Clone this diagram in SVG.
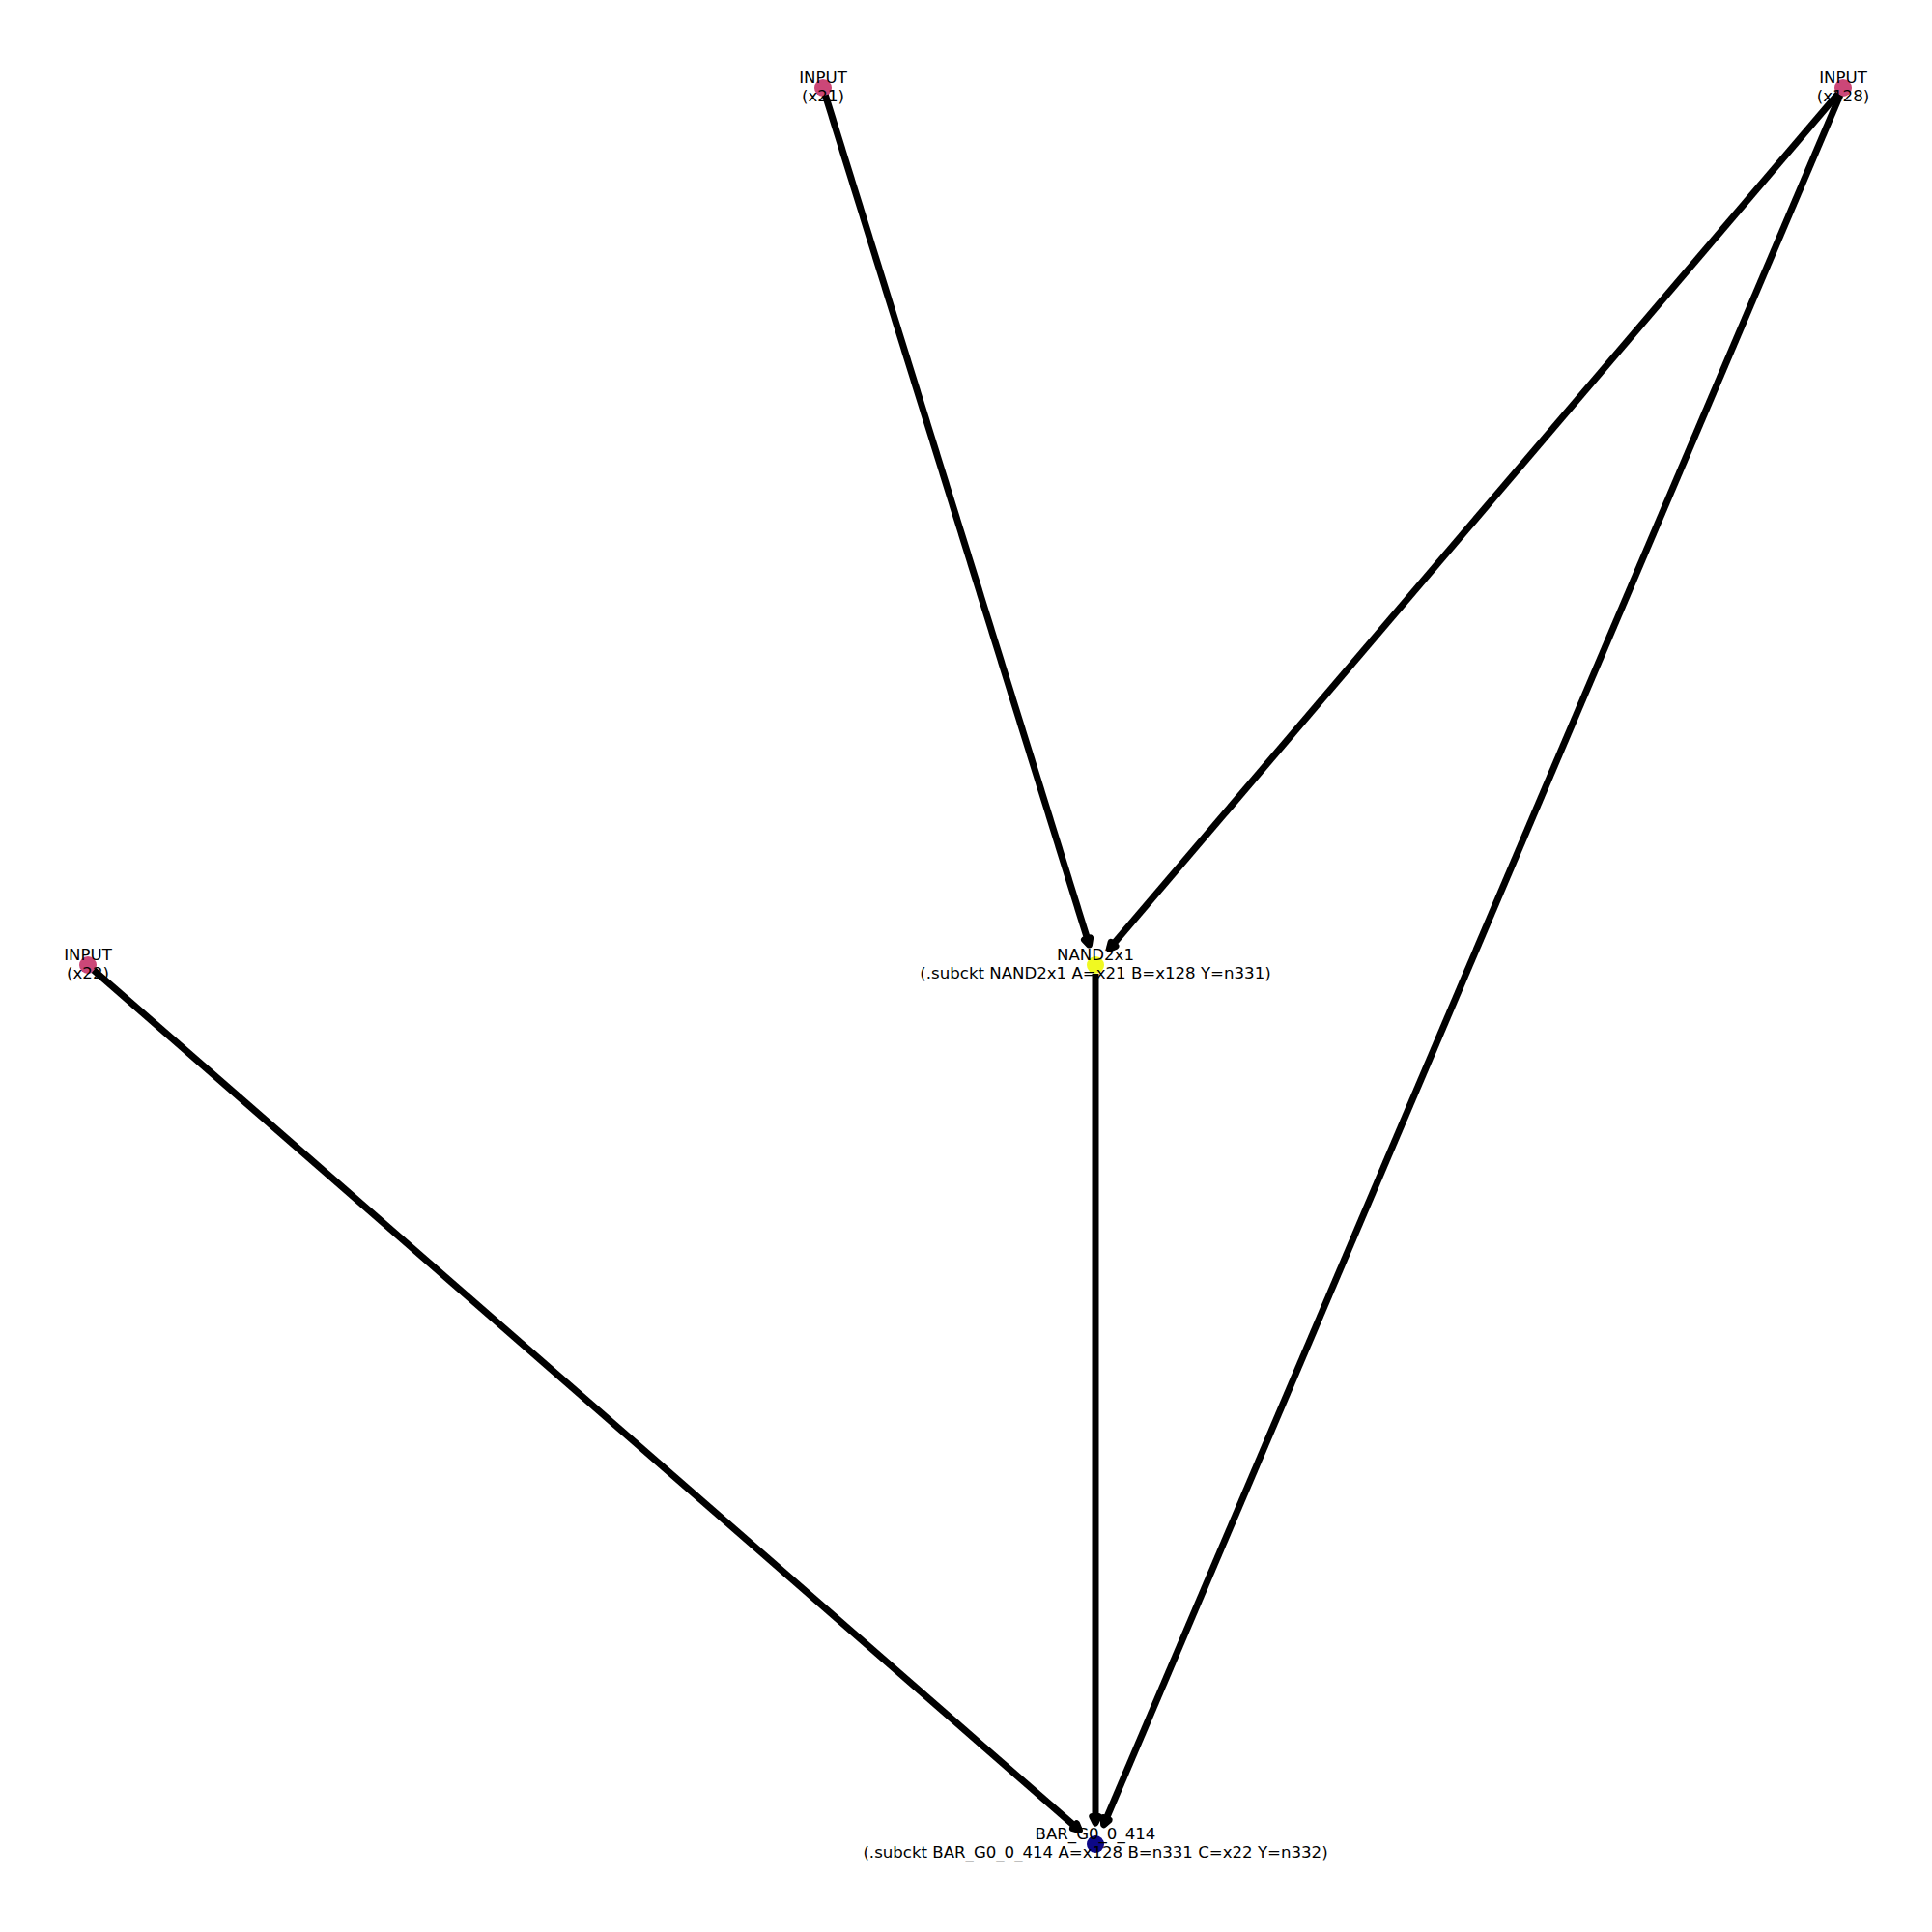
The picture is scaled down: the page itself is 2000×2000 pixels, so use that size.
<svg xmlns="http://www.w3.org/2000/svg" width="2000" height="2000" viewBox="0 0 2000 2000">
<style>
.edge{stroke:#000;stroke-width:7;fill:none;}
.lbl{font-family:"DejaVu Sans",sans-serif;font-size:16.6px;fill:#000;text-anchor:middle;}
.inp{fill:#cc4778;}
.nand{fill:#f0f921;}
.bar{fill:#0d0887;}
</style>
<defs>
<marker id="arr" markerUnits="userSpaceOnUse" viewBox="-10 -10 20 20" markerWidth="20" markerHeight="20" refX="0" refY="0" orient="auto" overflow="visible">
<path d="M-6.5,-3.2 L0,0 L-6.5,3.2 Z" fill="#000" stroke="#000" stroke-width="7" stroke-linejoin="round"/>
</marker>
</defs>
<rect width="2000" height="2000" fill="#fff"/>
<g id="node-x21"><circle class="inp" cx="852" cy="91" r="9"/></g>
<g id="node-x128"><circle class="inp" cx="1908" cy="91" r="9"/></g>
<g id="node-x22"><circle class="inp" cx="91" cy="999" r="9"/></g>
<g id="node-nand"><circle class="nand" cx="1134" cy="999" r="9"/></g>
<g id="node-bar"><circle class="bar" cx="1134" cy="1909" r="9"/></g>
<g id="edges">
<line class="edge" x1="854.4" y1="98.6" x2="1127.5" y2="978" marker-end="url(#arr)"/>
<line class="edge" x1="1902.8" y1="97.1" x2="1148.3" y2="982.3" marker-end="url(#arr)"/>
<line class="edge" x1="1904.9" y1="98.4" x2="1142.6" y2="1888.8" marker-end="url(#arr)"/>
<line class="edge" x1="97" y1="1004.3" x2="1117.4" y2="1894.5" marker-end="url(#arr)"/>
<line class="edge" x1="1134" y1="1008" x2="1134" y2="1887" marker-end="url(#arr)"/>
</g>
<g id="labels">
<text class="lbl" x="852" y="86">INPUT</text>
<text class="lbl" x="852" y="105">(x21)</text>
<text class="lbl" x="1908" y="86">INPUT</text>
<text class="lbl" x="1908" y="105">(x128)</text>
<text class="lbl" x="91" y="994">INPUT</text>
<text class="lbl" x="91" y="1013">(x22)</text>
<text class="lbl" x="1134" y="994">NAND2x1</text>
<text class="lbl" x="1134" y="1013">(.subckt NAND2x1 A=x21 B=x128 Y=n331)</text>
<text class="lbl" x="1134" y="1904">BAR_G0_0_414</text>
<text class="lbl" x="1134" y="1923">(.subckt BAR_G0_0_414 A=x128 B=n331 C=x22 Y=n332)</text>
</g>
</svg>
